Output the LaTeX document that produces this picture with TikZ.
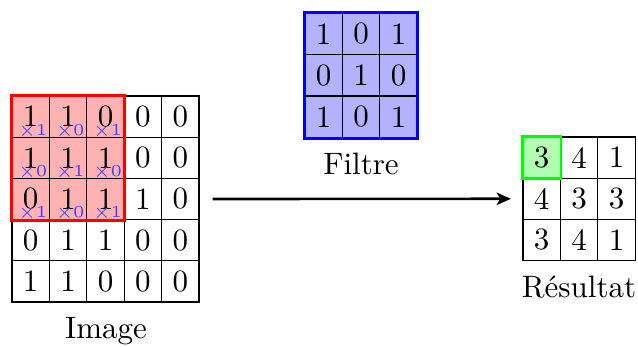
\documentclass[tikz,border=0pt]{standalone}
\usetikzlibrary{arrows.meta,backgrounds}
\begin{document}
\begin{tikzpicture}[x=0.3226pt,y=-0.3226pt,
  cell/.style={draw,line width=0.4pt,minimum width=12.07pt,minimum height=13.29pt,inner sep=0pt,anchor=center},
  wt/.style={anchor=base east,inner sep=0pt,font=\fontsize{5.4}{6}\selectfont,text=blue!75},
  caption/.style={anchor=base},
  redbox/.style={draw=red,line width=0.9pt},
  bluebox/.style={draw=blue,line width=0.9pt},
  greenbox/.style={draw=green,line width=0.9pt},
  conv/.style={line width=0.85pt,-{Stealth[length=4.6pt,width=4pt,inset=1.2pt]}}]
\useasboundingbox (0,0) rectangle (638,347);
% Image grid
\foreach \row [count=\r] in {{1,1,0,0,0},{1,1,1,0,0},{0,1,1,1,0},{0,1,1,0,0},{1,1,0,0,0}}{
  \foreach \v [count=\c] in \row {
    \node[cell] (img-\r-\c) at ({12+(\c-0.5)*37.4},{96+(\r-0.5)*41.2}) {\v};
  }
}
\begin{scope}[on background layer]
  \fill[red!30] (img-1-1.north west) rectangle (img-3-3.south east);
\end{scope}
\draw[redbox] (img-1-1.north west) rectangle (img-3-3.south east);
\foreach \w [count=\i from 0] in {1,0,1,0,1,0,1,0,1}{
  \pgfmathtruncatemacro\r{int(\i/3)+1}
  \pgfmathtruncatemacro\c{mod(\i,3)+1}
  \node[wt] (w-\r-\c) at ([shift={(-2.2,-2.3)}]img-\r-\c.south east) {×\w};
}
% Filter grid
\foreach \row [count=\r] in {{1,0,1},{0,1,0},{1,0,1}}{
  \foreach \v [count=\c] in \row {
    \node[cell,fill=blue!30] (fil-\r-\c) at ({305+(\c-0.5)*37.4},{13+(\r-0.5)*41.6}) {\v};
  }
}
\draw[bluebox] (fil-1-1.north west) rectangle (fil-3-3.south east);
% Result grid
\foreach \row [count=\r] in {{3,4,1},{4,3,3},{3,4,1}}{
  \foreach \v [count=\c] in \row {
    \node[cell] (res-\r-\c) at ({523+(\c-0.5)*37.4},{137+(\r-0.5)*41.2}) {\v};
  }
}
\begin{scope}[on background layer]
  \fill[green!30] (res-1-1.north west) rectangle (res-1-1.south east);
\end{scope}
\draw[greenbox] (res-1-1.north west) rectangle (res-1-1.south east);
% Captions
\node[caption] (capimg) at (106,339) {Image};
\node[caption] (capfil) at (361,175) {Filtre};
\node[caption] (capres) at (579,298) {R\'esultat};
% Arrow
\coordinate (a0) at ([xshift=4.2pt]img-3-5.east);
\coordinate (a1) at ([xshift=-3.7pt]res-2-1.west);
\draw[conv] (a0) -- (a1);
\end{tikzpicture}
\end{document}
